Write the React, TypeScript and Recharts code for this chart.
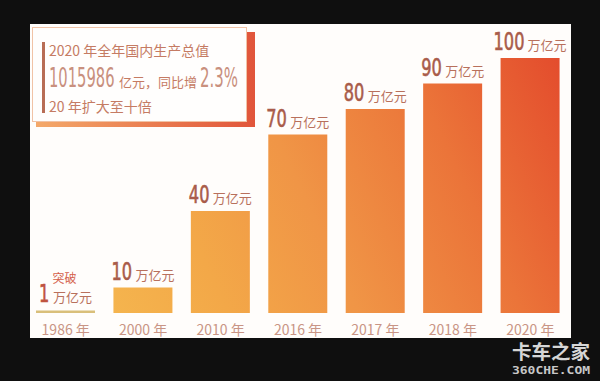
import { Bar, BarChart, Cell, LabelList, XAxis, YAxis } from "recharts";

const years = ["1986 年", "2000 年", "2010 年", "2016 年", "2017 年", "2018 年", "2020 年"];
const gdpTrillion = [1, 10, 40, 70, 80, 90, 100];
const unitText = "万亿元";
const firstNote = "突破";

const summaryTitle = "2020 年全年国内生产总值";
const summaryValue = "1015986";
const summaryMid = "亿元，同比增";
const summaryRate = "2.3%";
const summaryFoot = "20 年扩大至十倍";

const data = years.map((year, i) => ({ year, value: gdpTrillion[i] }));

const CJK = "'Noto Sans CJK SC', 'Noto Sans', sans-serif";
const NARROW = "'Liberation Sans Narrow', 'DejaVu Sans Condensed', 'Liberation Sans', sans-serif";

const YearTick = (props: any) => {
  const { x, y, payload } = props;
  return (
    <text x={x} y={y} dy={14} textAnchor="middle" fontSize={14} fontFamily={CJK} fill="#c99585">
      {payload.value}
    </text>
  );
};

// digits are squeezed horizontally to look like the condensed face of the original
const DIGIT_W = 25 * 0.556 * 0.72;
const UNIT_W = 13 * 3;

const renderLabel = (props: any) => {
  const { x, y, width, value, index } = props;
  const cx = x + width / 2;
  const numW = String(value).length * DIGIT_W;
  const left = cx - (numW + 4 + UNIT_W) / 2;
  const numColor = index === 0 ? "#bf533f" : "#a95c4a";
  return (
    <g>
      {index === 0 && (
        <text x={cx - 1} y={y - 27} textAnchor="middle" fontSize={12} fontFamily={CJK} fill="#d4604a">
          {firstNote}
        </text>
      )}
      <g transform={`translate(${left},${y - 8}) scale(0.72,1)`}>
        <text x={0} y={0} fontSize={25} fontFamily={NARROW} fill={numColor} stroke={numColor} strokeWidth={0.6}>
          {value}
        </text>
      </g>
      <text x={left + numW + 4} y={y - 8} fontSize={13} fontFamily={CJK} fill="#b8705c">
        {unitText}
      </text>
    </g>
  );
};

export default function App() {
  return (
    <div
      style={{
        position: "absolute",
        left: 0,
        top: 0,
        width: 600,
        height: 381,
        background: "#0f0f0f",
        overflow: "hidden",
      }}
    >
      <div
        style={{
          position: "absolute",
          left: 30,
          top: 24,
          width: 541,
          height: 314,
          background: "#fffdfb",
        }}
      />
      <div style={{ position: "absolute", left: 0, top: 0 }}>
        <BarChart
          width={600}
          height={381}
          data={data}
          margin={{ top: 58, right: 31, bottom: 38, left: 27 }}
        >
          <defs>
            <linearGradient id="barGrad" gradientUnits="userSpaceOnUse" x1={30} y1={313} x2={570} y2={60}>
              <stop offset="0" stopColor="#f6bd52" />
              <stop offset="0.3" stopColor="#f3a848" />
              <stop offset="0.5" stopColor="#f09546" />
              <stop offset="0.75" stopColor="#eb7439" />
              <stop offset="1" stopColor="#e34a2c" />
            </linearGradient>
          </defs>
          <XAxis
            dataKey="year"
            axisLine={false}
            tickLine={false}
            interval={0}
            height={30}
            tick={<YearTick />}
          />
          <YAxis hide width={0} domain={[0, 100]} />
          <Bar dataKey="value" barSize={59} isAnimationActive={false}>
            {data.map((d, i) => (
              <Cell key={d.year} fill={i === 0 ? "#d9bf7a" : "url(#barGrad)"} />
            ))}
            <LabelList dataKey="value" content={renderLabel} />
          </Bar>
        </BarChart>
      </div>
      <svg
        width={600}
        height={381}
        style={{ position: "absolute", left: 0, top: 0, pointerEvents: "none" }}
      >
        <defs>
          <linearGradient id="boxShadow" x1="0" y1="0" x2="1" y2="0">
            <stop offset="0" stopColor="#f4a96a" />
            <stop offset="1" stopColor="#e1553a" />
          </linearGradient>
        </defs>
        <rect x={36} y={32} width={219} height={95} fill="url(#boxShadow)" />
        <rect x={32.5} y={27.5} width={214} height={94} fill="#fffefd" stroke="#f1c3a6" />
        <rect x={42} y={42} width={3} height={71} fill="#b86d55" />
        <text x={49} y={56} fontSize={14} fontFamily={CJK} fill="#c57b63">
          {summaryTitle}
        </text>
        <g transform="translate(49,87) scale(0.63,1)">
          <text x={0} y={0} fontSize={26} fontFamily={NARROW} fill="#c9907e">
            {summaryValue}
          </text>
        </g>
        <text x={119} y={87} fontSize={13} fontFamily={CJK} fill="#c57b63">
          {summaryMid}
        </text>
        <g transform="translate(200,87) scale(0.64,1)">
          <text x={0} y={0} fontSize={26} fontFamily={NARROW} fill="#c9907e">
            {summaryRate}
          </text>
        </g>
        <text x={49} y={112} fontSize={14} fontFamily={CJK} fill="#c57b63">
          {summaryFoot}
        </text>
        <text
          x={512}
          y={359}
          fontSize={19}
          fontWeight="bold"
          fontFamily={CJK}
          fill="#d6d6d6"
          textLength={78}
          lengthAdjust="spacingAndGlyphs"
        >
          卡车之家
        </text>
        <text
          x={512}
          y={374}
          fontSize={10}
          fontWeight="bold"
          fontFamily="'DejaVu Sans Mono', monospace"
          fill="#c8c8c8"
          textLength={78}
          lengthAdjust="spacingAndGlyphs"
        >
          360CHE.COM
        </text>
      </svg>
    </div>
  );
}
